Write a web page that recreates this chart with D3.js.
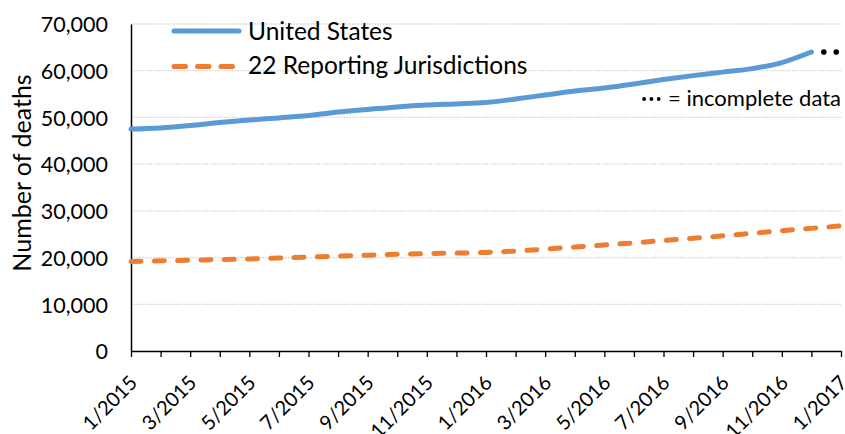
<!DOCTYPE html>
<html>
<head>
<meta charset="utf-8">
<script src="https://cdn.jsdelivr.net/npm/d3@7"></script>
<style>
  body { margin: 0; background: #fff; }
  svg text { font-family: Lato, "Open Sans", sans-serif; fill: #000; }
</style>
</head>
<body>
<svg width="845" height="434"></svg>
<script>
// monthly values (12-month ending counts)
const months = ["1/2015","2/2015","3/2015","4/2015","5/2015","6/2015","7/2015","8/2015",
  "9/2015","10/2015","11/2015","12/2015","1/2016","2/2016","3/2016","4/2016","5/2016",
  "6/2016","7/2016","8/2016","9/2016","10/2016","11/2016","12/2016","1/2017"];

const usDeaths = [47500, 47750, 48250, 48900, 49450, 49900, 50400, 51150, 51700, 52250,
  52650, 52900, 53200, 53950, 54800, 55650, 56300, 57150, 58100, 58950, 59700, 60450,
  61750, 64000];

const jurDeaths = [19150, 19300, 19450, 19550, 19700, 19900, 20100, 20300, 20500, 20700,
  20850, 20950, 21100, 21400, 21800, 22250, 22700, 23150, 23650, 24150, 24650, 25200,
  25750, 26250, 26800];

const yTicks = [0, 10000, 20000, 30000, 40000, 50000, 60000, 70000];

const seriesNames = ["United States", "22 Reporting Jurisdictions"];

const blue = "#5b9bd5",
      orange = "#ed7d31";

const svg = d3.select("svg");
const margin = {top: 24, right: 4, bottom: 83, left: 131};
const width = +svg.attr("width") - margin.left - margin.right,
      height = +svg.attr("height") - margin.top - margin.bottom;

const x = d3.scalePoint()
  .domain(months)
  .range([0, width]);

const y = d3.scaleLinear()
  .domain([0, 70000])
  .range([height, 0]);

const g = svg.append("g")
  .attr("transform", `translate(${margin.left},${margin.top})`);

// dotted gridlines
g.append("g")
  .selectAll("line")
  .data(yTicks.filter(d => d > 0))
  .enter().append("line")
  .attr("x1", 0)
  .attr("x2", width)
  .attr("y1", d => y(d))
  .attr("y2", d => y(d))
  .attr("stroke", "#d0d0d0")
  .attr("stroke-width", 1.3)
  .attr("stroke-dasharray", "1.4,1.4");

// y axis
const yAxis = g.append("g")
  .call(d3.axisLeft(y)
    .tickValues(yTicks)
    .tickSize(0)
    .tickPadding(23)
    .tickFormat(d3.format(",")));
yAxis.select(".domain").attr("stroke", "#000").attr("stroke-width", 1.5);
yAxis.selectAll("text").attr("font-size", 21.5).attr("dy", "0.36em");

// x axis
const xAxis = g.append("g")
  .attr("transform", `translate(0,${height})`)
  .call(d3.axisBottom(x)
    .tickSize(6)
    .tickSizeOuter(0)
    .tickFormat((d, i) => i % 2 === 0 ? d : ""));
xAxis.select(".domain").attr("stroke", "#000").attr("stroke-width", 1.5);
xAxis.selectAll(".tick line").attr("stroke", "#000").attr("stroke-width", 1.3);
xAxis.selectAll("text")
  .attr("font-size", 20)
  .attr("text-anchor", "end")
  .attr("x", 0)
  .attr("y", 0)
  .attr("dy", 0)
  .attr("transform", "translate(7,33) rotate(-45)");

// y title
svg.append("text")
  .attr("transform", `translate(31,${margin.top + 149}) rotate(-90)`)
  .attr("text-anchor", "middle")
  .attr("font-size", 25)
  .text("Number of deaths");

const line = d3.line()
  .x((d, i) => x(months[i]))
  .y(d => y(d))
  .curve(d3.curveMonotoneX);

g.append("path")
  .datum(jurDeaths)
  .attr("fill", "none")
  .attr("stroke", orange)
  .attr("stroke-width", 5)
  .attr("stroke-linecap", "round")
  .attr("stroke-dasharray", "10,13.3")
  .attr("d", line);

g.append("path")
  .datum(usDeaths)
  .attr("fill", "none")
  .attr("stroke", blue)
  .attr("stroke-width", 5)
  .attr("stroke-linecap", "round")
  .attr("d", line);

// incomplete last month shown as dots
const last = usDeaths.length - 1;
g.append("g")
  .selectAll("circle")
  .data([1, 2])
  .enter().append("circle")
  .attr("cx", k => x(months[last]) + k * (x(months[last + 1]) - x(months[last])) * 0.42)
  .attr("cy", y(usDeaths[last]))
  .attr("r", 2.8)
  .attr("fill", "#000");

// legend
const legend = svg.append("g").attr("transform", "translate(171,31)");
const items = legend.selectAll("g")
  .data(seriesNames)
  .enter().append("g")
  .attr("transform", (d, i) => `translate(0,${i * 34})`);

items.append("line")
  .attr("x1", 3)
  .attr("x2", (d, i) => i ? 65 : 68)
  .attr("y1", (d, i) => i ? 1.5 : 0)
  .attr("y2", (d, i) => i ? 1.5 : 0)
  .attr("stroke", (d, i) => i ? orange : blue)
  .attr("stroke-width", 5)
  .attr("stroke-linecap", "round")
  .attr("stroke-dasharray", (d, i) => i ? "11.5,12" : null);

items.append("text")
  .attr("x", 77)
  .attr("y", 9)
  .attr("font-size", 24.5)
  .text(d => d);

// note for the dotted segment
const note = svg.append("text")
  .attr("x", 841)
  .attr("y", 106)
  .attr("text-anchor", "end")
  .attr("font-size", 22)
  .text("= incomplete data");
const noteStart = 841 - note.node().getComputedTextLength();
svg.append("g")
  .selectAll("circle")
  .data([0, 1, 2])
  .enter().append("circle")
  .attr("cx", k => noteStart - 24 + k * 7.3)
  .attr("cy", 99)
  .attr("r", 1.9)
  .attr("fill", "#000");
</script>
</body>
</html>
